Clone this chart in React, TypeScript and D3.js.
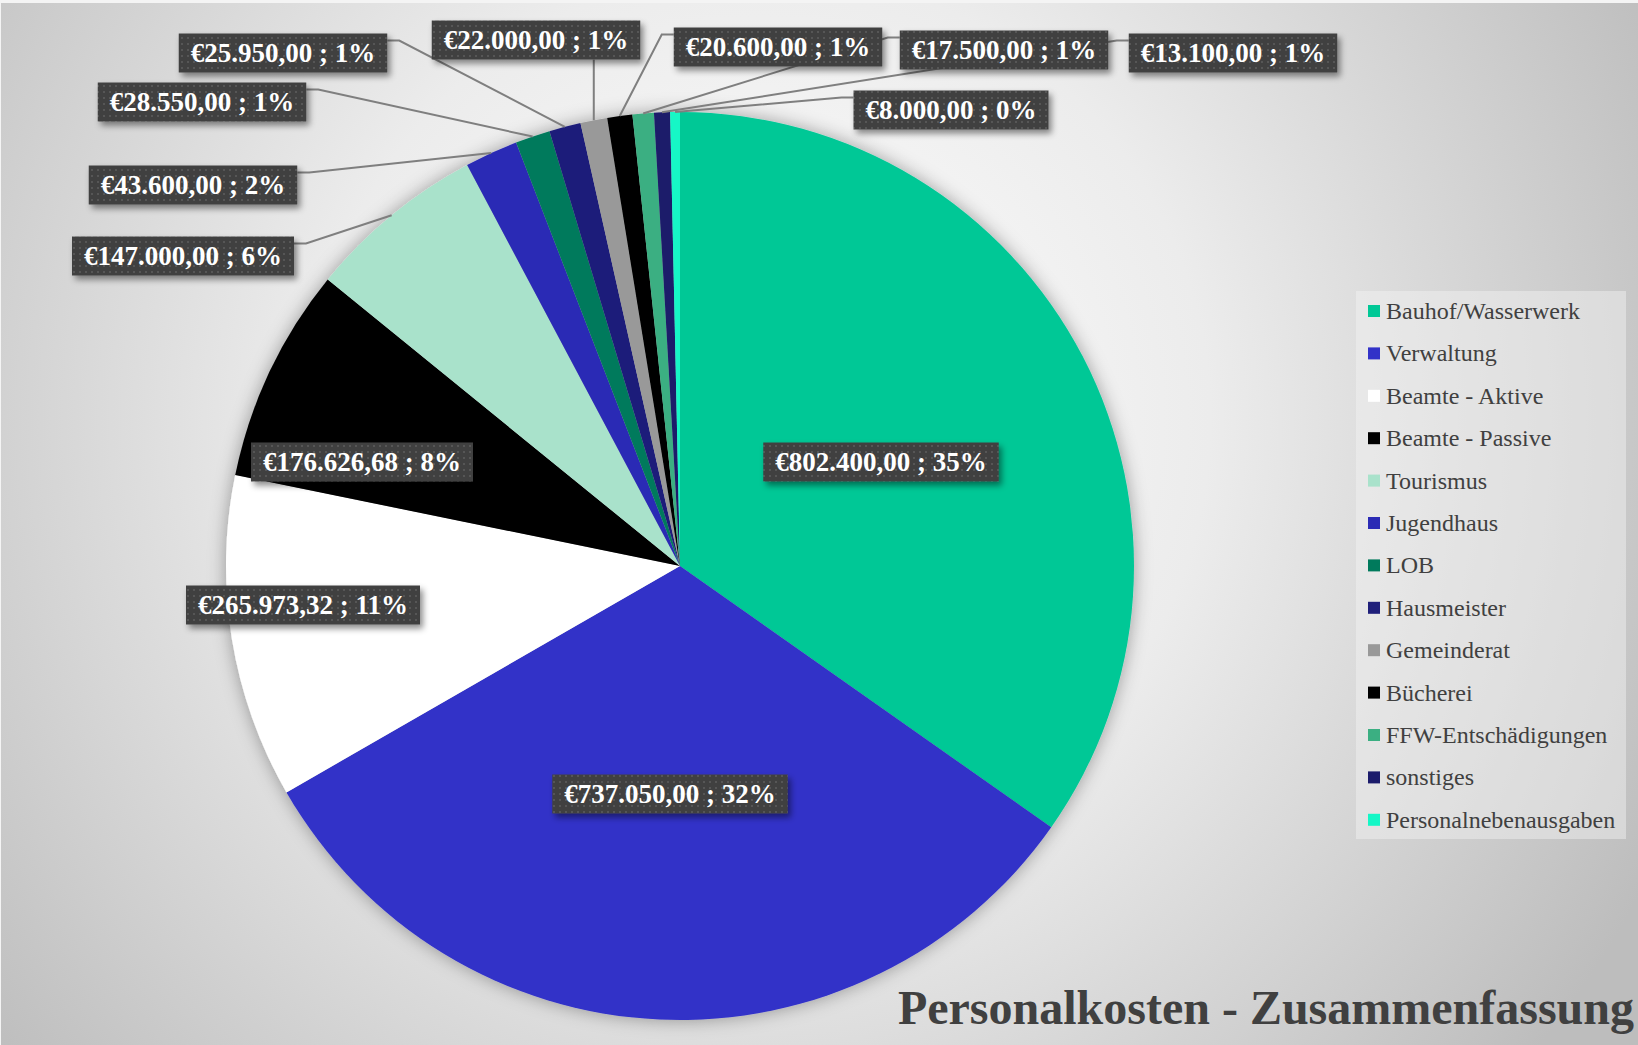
import React from "react";
import * as d3 from "d3";

// ---------- data ----------
const categories = [
  "Bauhof/Wasserwerk",
  "Verwaltung",
  "Beamte - Aktive",
  "Beamte - Passive",
  "Tourismus",
  "Jugendhaus",
  "LOB",
  "Hausmeister",
  "Gemeinderat",
  "Bücherei",
  "FFW-Entschädigungen",
  "sonstiges",
  "Personalnebenausgaben",
];
const values = [
  802400, 737050, 265973.32, 176626.68, 147000, 43600, 28550, 25950, 22000,
  20600, 17500, 13100, 8000,
];
const percentLabels = [35, 32, 11, 8, 6, 2, 1, 1, 1, 1, 1, 1, 0];
const title = "Personalkosten - Zusammenfassung";

// ---------- styles / layout ----------
const colors = [
  "#00C896",
  "#3232C8",
  "#FFFFFF",
  "#000000",
  "#A9E2CB",
  "#2B2BB5",
  "#007A5C",
  "#1F1F7A",
  "#999999",
  "#000000",
  "#3BAF82",
  "#1B1B6B",
  "#14F7C6",
];
// label box centres (layout)
const labelCenters: [number, number][] = [
  [881, 462],
  [670, 794],
  [303, 605],
  [362, 462],
  [183, 256],
  [193, 185],
  [202, 102],
  [283, 53],
  [536, 40],
  [778, 47],
  [1004, 50],
  [1233, 53],
  [951, 110],
];
const hasLeader = [false, false, false, false, true, true, true, true, true, true, true, true, true];

const W = 1638;
const H = 1045;
const CX = 680;
const CY = 566;
const R = 454;
const FONT = "'Liberation Serif', 'Times New Roman', serif";
const LABEL_FONT_SIZE = 27;
const BOX_H = 39;

const locale = d3.formatLocale({
  decimal: ",",
  thousands: ".",
  grouping: [3],
  currency: ["€", ""],
});
const fmt = locale.format("$,.2f");

let ctx: CanvasRenderingContext2D | null = null;
function measure(text: string, font: string): number {
  if (!ctx) {
    const c = document.createElement("canvas");
    ctx = c.getContext("2d");
  }
  if (!ctx) return text.length * 13;
  ctx.font = font;
  return ctx.measureText(text).width;
}

export default function App() {
  const pie = d3
    .pie<number>()
    .sort(null)
    .value((d) => d);
  const arcs = pie(values);
  const arc = d3.arc<d3.PieArcDatum<number>>().innerRadius(0).outerRadius(R);
  const edgeArc = d3.arc<d3.PieArcDatum<number>>().innerRadius(R).outerRadius(R);

  const labels = arcs.map((a, i) => {
    const text = `${fmt(values[i])} ; ${percentLabels[i]}%`;
    const tw = measure(text, `bold ${LABEL_FONT_SIZE}px ${FONT}`);
    const bw = tw + 24;
    const [lx, ly] = labelCenters[i];
    const x0 = lx - bw / 2;
    const x1 = lx + bw / 2;
    const y0 = ly - BOX_H / 2;
    const y1 = ly + BOX_H / 2;
    const [ex, ey] = edgeArc.centroid(a);
    const px = CX + ex;
    const py = CY + ey;
    let path = "";
    if (hasLeader[i]) {
      if (px >= x0 && px <= x1) {
        path = `M${px},${y1}L${px},${py}`;
      } else if (px < x0) {
        const ay = y0 + 7;
        path = `M${x0},${ay}L${x0 - 12},${ay}L${px},${py}`;
      } else {
        const ay = y0 + 7;
        path = `M${x1},${ay}L${x1 + 12},${ay}L${px},${py}`;
      }
    }
    return { text, x0, y0, bw, lx, ly, path };
  });

  const legendX = 1356;
  const legendY = 291;
  const legendW = 270;
  const legendH = 548;
  const legendStep = 42.4;
  const legendFirst = 311;

  return (
    <svg
      width={W}
      height={H}
      style={{ position: "absolute", left: 0, top: 0, display: "block" }}
      xmlns="http://www.w3.org/2000/svg"
    >
      <defs>
        <radialGradient id="bg" gradientUnits="userSpaceOnUse" cx={760} cy={420} r={1000}>
          <stop offset="0" stopColor="#ffffff" />
          <stop offset="0.45" stopColor="#ececec" />
          <stop offset="1" stopColor="#bdbdbd" />
        </radialGradient>
        <filter id="pieShadow" x="-20%" y="-20%" width="140%" height="140%">
          <feDropShadow dx="0" dy="0" stdDeviation="9" floodColor="#000" floodOpacity="0.35" />
        </filter>
        <filter id="boxShadow" x="-20%" y="-40%" width="140%" height="180%">
          <feDropShadow dx="3" dy="4" stdDeviation="3" floodColor="#000" floodOpacity="0.45" />
        </filter>
        <pattern id="dots" width="6" height="6" patternUnits="userSpaceOnUse">
          <rect width="6" height="6" fill="#404040" />
          <rect x="1" y="1" width="2" height="2" fill="#565656" />
        </pattern>
      </defs>

      <rect x={0} y={0} width={W} height={H} fill="#f4f4f4" />
      <rect x={1} y={3} width={W - 1} height={H - 3} fill="url(#bg)" />

      <g filter="url(#pieShadow)" transform={`translate(${CX},${CY})`}>
        {arcs.map((a, i) => (
          <path key={i} d={arc(a) || ""} fill={colors[i]} />
        ))}
      </g>

      <g>
        {labels.map((l, i) =>
          l.path ? (
            <path key={i} d={l.path} fill="none" stroke="#7f7f7f" strokeWidth={2} />
          ) : null
        )}
      </g>

      <g>
        {labels.map((l, i) => (
          <g key={i}>
            <rect
              x={l.x0}
              y={l.y0}
              width={l.bw}
              height={BOX_H}
              fill="url(#dots)"
              filter="url(#boxShadow)"
            />
            <text
              x={l.lx}
              y={l.ly + 9}
              textAnchor="middle"
              fontFamily={FONT}
              fontWeight="bold"
              fontSize={LABEL_FONT_SIZE}
              fill="#ffffff"
            >
              {l.text}
            </text>
          </g>
        ))}
      </g>

      <g>
        <rect x={legendX} y={legendY} width={legendW} height={legendH} fill="#f4f4f4" opacity={0.45} />
        {categories.map((c, i) => {
          const y = legendFirst + i * legendStep;
          return (
            <g key={c}>
              <rect x={1368} y={y - 6} width={12} height={12} fill={colors[i]} />
              <text
                x={1386}
                y={y + 8}
                fontFamily={FONT}
                fontSize={24}
                fill="#404040"
              >
                {c}
              </text>
            </g>
          );
        })}
      </g>

      <text
        x={1634}
        y={1024}
        textAnchor="end"
        fontFamily={FONT}
        fontWeight="bold"
        fontSize={48}
        fill="#404040"
      >
        {title}
      </text>
    </svg>
  );
}
